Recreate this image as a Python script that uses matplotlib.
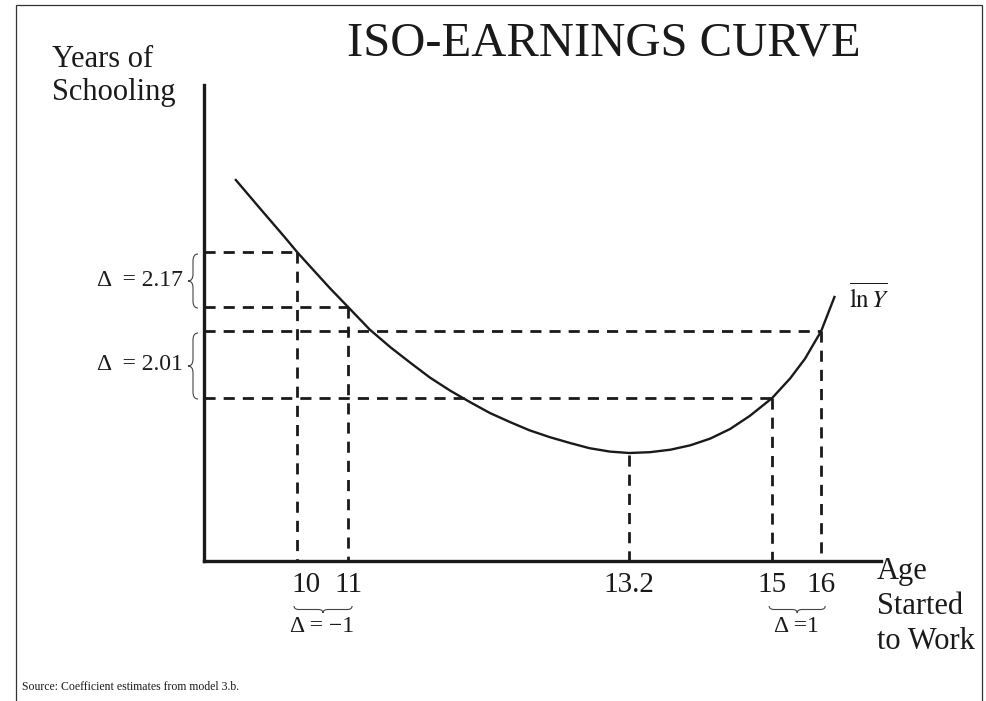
import matplotlib
matplotlib.use("Agg")
import matplotlib.pyplot as plt
import numpy as np
from matplotlib.patches import PathPatch, Rectangle
from matplotlib.path import Path
from matplotlib.transforms import IdentityTransform

W, H = 987, 701

# iso-earnings curve (schooling in schematic units, no scale given)
curve_age = [8.80, 9.27, 9.76, 10.0, 10.25, 10.65, 11.0, 11.17, 11.33, 11.49, 11.64,
             11.80, 11.96, 12.11, 12.27, 12.42, 12.58, 12.74, 12.89, 13.05, 13.2,
             13.46, 13.72, 13.97, 14.22, 14.47, 14.72, 15.0, 15.37, 15.67, 16.0, 16.27]
curve_school = [38.1, 35.28, 32.37, 30.9, 29.49, 27.25, 25.4, 23.14, 21.39, 19.8, 18.35,
                17.03, 15.85, 14.8, 13.88, 13.07, 12.38, 11.79, 11.28, 10.94, 10.8,
                10.88, 11.13, 11.57, 12.24, 13.2, 14.52, 16.3, 18.28, 20.23, 23.0, 26.4]

# points picked out with dashed guides
mark_age = [10, 11, 15, 16]
mark_school = [30.9, 25.4, 16.3, 23.0]
min_age = 13.2
min_school = 10.8

tick_ages = [10, 11, 13.2, 15, 16]
tick_labels = ["10", "11", "13.2", "15", "16"]
school_delta_labels = ["\u0394  = 2.17", "\u0394  = 2.01"]
age_delta_labels = ["\u0394 = \u22121", "\u0394 =1"]

# the age axis in the original is not to scale: piecewise spacing
AGE_KNOTS = [0, 10, 11, 13.2, 15, 16, 30]
POS_KNOTS = [-213, 297, 348, 629, 772, 821, 1507]

plt.rcParams["font.family"] = ["Liberation Serif", "DejaVu Serif"]
plt.rcParams["mathtext.fontset"] = "stix"
INK = "#1a1a1a"

fig = plt.figure(figsize=(W / 100, H / 100), dpi=100)
ax = fig.add_axes([204 / W, 1 - 561 / H, (881 - 204) / W, (561 - 85) / H])
ax.set_xscale("function", functions=(lambda a: np.interp(a, AGE_KNOTS, POS_KNOTS),
                                     lambda p: np.interp(p, POS_KNOTS, AGE_KNOTS)))
ax.set_xlim(8.176, 17.22)
ax.set_ylim(0, 47.6)
ax.set_xticks([])
ax.set_yticks([])
for side in ("top", "right"):
    ax.spines[side].set_visible(False)
for side in ("left", "bottom"):
    ax.spines[side].set_linewidth(2.4)
    ax.spines[side].set_color(INK)
    ax.spines[side].set_capstyle("projecting")

ax.plot(curve_age, curve_school, color=INK, lw=1.7, clip_on=False,
        solid_joinstyle="round")

dash = dict(color=INK, lw=2.0, linestyle=(0, (4.0, 2.9)), clip_on=False)
x0 = ax.get_xlim()[0]
for a, s in zip(mark_age, mark_school):
    ax.plot([x0, a], [s, s], **dash)
    ax.plot([a, a], [s, 0], **dash)
ax.plot([min_age, min_age], [min_school - 0.2, 0], **dash)


def to_px(x, y):
    d = ax.transData.transform((x, y))
    return d[0], H - d[1]


def ftext(x, y, s, **kw):
    fig.text(x / W, 1 - y / H, s, **kw)


def brace(p0, p1, depth):
    """Curly brace between two pixel points (top-left origin), bulging to the right of p0->p1."""
    p0 = np.array([p0[0], H - p0[1]], float)
    p1 = np.array([p1[0], H - p1[1]], float)
    d = p1 - p0
    L = np.hypot(*d)
    u = d / L
    n = np.array([u[1], -u[0]])
    h = depth / 2
    r = min(depth * 0.7, L / 4)
    local = [(0, 0), (0, h), (r, h), (L / 2 - r, h), (L / 2, h), (L / 2, depth),
             (L / 2, h), (L / 2 + r, h), (L - r, h), (L, h), (L, 0)]
    codes = [Path.MOVETO, Path.CURVE3, Path.CURVE3, Path.LINETO, Path.CURVE3, Path.CURVE3,
             Path.CURVE3, Path.CURVE3, Path.LINETO, Path.CURVE3, Path.CURVE3]
    verts = [p0 + t * u + s * n for t, s in local]
    fig.add_artist(PathPatch(Path(verts, codes), fill=False, ec="#444444", lw=0.8,
                             transform=IdentityTransform()))


# tick labels under the age axis
for a, lab in zip(tick_ages, tick_labels):
    px, _ = to_px(a, 0)
    nudge = 9 if lab == "10" else 0
    ftext(px + nudge, 592, lab, ha="center", va="baseline", fontsize=21, color=INK)

# change in age braces
for (a, b), lab in zip([(10, 11), (15, 16)], age_delta_labels):
    xa, _ = to_px(a, 0)
    xb, _ = to_px(b, 0)
    brace((xa - 3, 606), (xb + 4, 606), 7)
    ftext((xa + xb) / 2, 632, lab, ha="center", va="baseline", fontsize=17, color=INK)

# change in schooling braces
for (i, j), lab in zip([(0, 1), (3, 2)], school_delta_labels):
    _, ya = to_px(mark_age[i], mark_school[i])
    _, yb = to_px(mark_age[j], mark_school[j])
    brace((198, ya + 2), (198, yb + 1), 10)
    ftext(183, (ya + yb) / 2 + 6, lab, ha="right", va="baseline", fontsize=17, color=INK)

# curve label
ftext(849, 308, r"$\overline{\ln Y}$", ha="left", va="baseline", fontsize=18, color=INK)

# titles and axis names
ftext(604, 55, "ISO-EARNINGS CURVE", ha="center", va="baseline", fontsize=35, color=INK)
ftext(52, 67, "Years of", ha="left", va="baseline", fontsize=22, color=INK)
ftext(52, 100, "Schooling", ha="left", va="baseline", fontsize=22, color=INK)
for yb, line in zip([579, 614, 649], ["Age", "Started", "to Work"]):
    ftext(877, yb, line, ha="left", va="baseline", fontsize=22, color=INK)
ftext(22, 690, "Source: Coefficient estimates from model 3.b.", ha="left", va="baseline",
      fontsize=8.5, color=INK)

# slide frame (bottom edge lies outside the picture)
fig.add_artist(Rectangle((16 / W, -0.05), (982 - 16) / W, 1.05 - 5 / H, transform=fig.transFigure,
                         fill=False, ec="#333333", lw=0.9))

fig.savefig("out.png", dpi=100)
plt.close(fig)
